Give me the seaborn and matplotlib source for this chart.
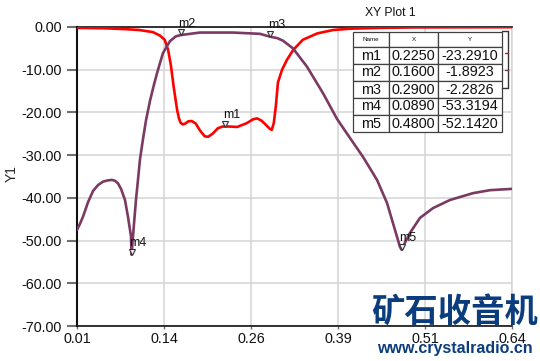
import numpy as np
import pandas as pd
import matplotlib
matplotlib.use("Agg")
import matplotlib.pyplot as plt
from matplotlib.lines import Line2D
from matplotlib import transforms
import seaborn as sns

# ---- data ----
red_x = [0.010, 0.050, 0.080, 0.100, 0.120, 0.130, 0.137, 0.142, 0.146, 0.150,
         0.155, 0.1575, 0.160, 0.163, 0.167, 0.171, 0.176, 0.182, 0.188, 0.195,
         0.200, 0.207, 0.214, 0.221, 0.2250, 0.230, 0.242, 0.256, 0.265, 0.271,
         0.277, 0.283, 0.289, 0.292, 0.295, 0.298, 0.301, 0.307, 0.314, 0.323,
         0.337, 0.358, 0.381, 0.405, 0.450, 0.500, 0.640]
red_y = [-0.2, -0.3, -0.5, -0.7, -1.2, -2.0, -3.0, -5.4, -9.0, -14.0,
         -19.4, -21.3, -22.4, -22.8, -22.6, -22.1, -22.0, -22.6, -24.2, -25.6,
         -25.7, -24.9, -23.7, -23.3, -23.291, -23.3, -23.4, -22.5, -21.6, -21.4,
         -21.9, -22.8, -23.8, -24.1, -22.5, -18.5, -13.0, -10.0, -7.7, -5.4,
         -3.0, -1.5, -0.7, -0.4, -0.2, -0.1, -0.05]

pur_x = [0.010, 0.0145, 0.0187, 0.0260, 0.0332, 0.0405, 0.0477, 0.0550, 0.0607, 0.0650,
         0.0694, 0.0740, 0.0795, 0.0839, 0.0882, 0.0890, 0.0926, 0.0954, 0.0983, 0.1012,
         0.1056, 0.1100, 0.1157, 0.1210, 0.1259, 0.1345, 0.1447, 0.1530, 0.1600, 0.188,
         0.236, 0.275, 0.2900, 0.3000, 0.3083, 0.3228, 0.3431, 0.3663, 0.3865, 0.4054,
         0.4242, 0.4445, 0.4590, 0.4705, 0.4778, 0.4800, 0.4850, 0.4923, 0.5067, 0.5256,
         0.5502, 0.5835, 0.6081, 0.640]
pur_y = [-47.5, -46.0, -44.4, -41.0, -38.4, -37.0, -36.2, -35.9, -35.8, -36.0,
         -36.6, -38.0, -40.5, -44.5, -49.0, -53.3194, -46.0, -40.5, -35.8, -31.0,
         -26.2, -21.8, -17.3, -13.8, -10.8, -6.1, -3.3, -2.2, -1.8923, -1.3,
         -1.3, -1.6, -2.2826, -2.6, -3.2, -5.0, -9.3, -15.5, -21.5, -26.0,
         -30.4, -35.8, -41.2, -47.5, -51.5, -52.142, -50.5, -48.2, -44.7, -42.4,
         -40.5, -38.9, -38.2, -37.9]

marker_names = ["m1", "m2", "m3", "m4", "m5"]
marker_x = [0.2250, 0.1600, 0.2900, 0.0890, 0.4800]
marker_y = [-23.2910, -1.8923, -2.2826, -53.3194, -52.1420]

x_ticks = [0.01, 0.136, 0.262, 0.388, 0.514, 0.64]
x_tick_labels = ["0.01", "0.14", "0.26", "0.39", "0.51", "0.64"]
y_ticks = [0, -10, -20, -30, -40, -50, -60, -70]
y_tick_labels = ["0.00", "-10.00", "-20.00", "-30.00", "-40.00", "-50.00", "-60.00", "-70.00"]

table_header = ["Name", "X", "Y"]
table_x_text = ["0.2250", "0.1600", "0.2900", "0.0890", "0.4800"]
table_y_text = ["-23.2910", "-1.8923", "-2.2826", "-53.3194", "-52.1420"]

RED = "#ff0000"
PURPLE = "#7a3a62"

sns.set_theme(style="whitegrid")
plt.rcParams["font.family"] = ["Liberation Sans", "DejaVu Sans"]

W, H = 540, 361
fig = plt.figure(figsize=(5.4, 3.61), dpi=100)
fig.patch.set_facecolor("white")
ax = fig.add_axes([77 / W, (H - 326) / H, 435 / W, 299 / H])
ax.set_facecolor("white")

df = pd.concat([
    pd.DataFrame({"x": red_x, "y": red_y, "s": "S11"}),
    pd.DataFrame({"x": pur_x, "y": pur_y, "s": "S21"}),
])
sns.lineplot(data=df, x="x", y="y", hue="s", palette={"S11": RED, "S21": PURPLE},
             estimator=None, sort=True, linewidth=1.9, legend=False, ax=ax, zorder=3)
for ln in ax.get_lines():
    ln.set_solid_joinstyle("round")

ax.set_xlim(0.01, 0.64)
ax.set_ylim(-70, 0)
ax.set_xticks(x_ticks)
ax.set_xticklabels(x_tick_labels)
ax.set_yticks(y_ticks)
ax.set_yticklabels(y_tick_labels)
ax.set_xlabel("")
ax.set_ylabel("Y1", fontsize=10)
ax.yaxis.set_label_coords(-0.133, 0.51)

ax.grid(True, color="#d4d4d4", linewidth=1.1)
ax.tick_params(axis="y", left=True, direction="out", length=7, width=1.5,
               color="#707070", labelsize=10.4, pad=4, labelcolor="#111111")
ax.tick_params(axis="x", bottom=True, direction="out", length=2.5, width=1.0,
               color="#707070", labelsize=10.4, pad=1.5, labelcolor="#111111")
for side in ["left", "bottom", "top"]:
    ax.spines[side].set_color("#111111")
ax.spines["left"].set_linewidth(1.5)
ax.spines["bottom"].set_linewidth(1.2)
ax.spines["top"].set_linewidth(1.2)
ax.spines["right"].set_color("#d4d4d4")
ax.spines["right"].set_linewidth(1.1)

# markers
tri_tr = transforms.offset_copy(ax.transData, fig=fig, x=0, y=2.0, units="points")
ax.plot(marker_x, marker_y, linestyle="none", marker="v", ms=4.2, mfc="#f0f0f0",
        mec="#333333", mew=0.8, transform=tri_tr, zorder=5)
for n, mx, my in zip(marker_names, marker_x, marker_y):
    ax.annotate(n, (mx, my), xytext=(-1.5, 6), textcoords="offset points",
                ha="left", va="baseline", fontsize=9, color="#111111", zorder=6)

# title
fig.text(390 / W, 1 - 13 / H, "XY Plot 1", ha="center", va="center", fontsize=8.8, color="#111111")

# marker table
tbl_rows = [[n, xv, yv] for n, xv, yv in zip(marker_names, table_x_text, table_y_text)]
tab = ax.table(cellText=[table_header] + tbl_rows,
               colWidths=[36 / 149, 49 / 149, 64 / 149],
               bbox=[(353 - 77) / 435, (326 - 132) / 299, 149 / 435, 100 / 299],
               cellLoc="center", zorder=10)
tab.auto_set_font_size(False)
for (r, c), cell in tab.get_celld().items():
    cell.set_edgecolor("#404040")
    cell.set_linewidth(0.9)
    cell.set_facecolor("white")
    if r == 0:
        cell.set_height(15)
        cell.get_text().set_fontsize(4.5)
    else:
        cell.set_height(17)
        cell.get_text().set_fontsize(10.4)
    cell.get_text().set_color("#111111")

# partly hidden legend bracket at right of the table
def fl(x0, y0, x1, y1, color="#333333", lw=1.0):
    fig.add_artist(Line2D([x0 / W, x1 / W], [1 - y0 / H, 1 - y1 / H], color=color, lw=lw, zorder=9))

fl(502, 31, 508, 31)
fl(508, 31, 508, 88)
fl(502, 88, 508, 88)
fl(505, 53, 508, 53, color=RED, lw=1.0)
fl(505, 70, 508, 70, color=PURPLE, lw=1.0)

# watermark
fig.text(455 / W, 1 - 312 / H, "矿石收音机", ha="center", va="center", fontsize=24,
         fontweight="bold", color="#0b3c7d", family=["Noto Sans CJK SC", "DejaVu Sans"], zorder=20)
fig.text(455 / W, 1 - 349 / H, "www.crystalradio.cn", ha="center", va="center", fontsize=11.5,
         fontweight="bold", color="#0b3c7d", zorder=20)

fig.savefig("out.png", dpi=100, facecolor="white")
